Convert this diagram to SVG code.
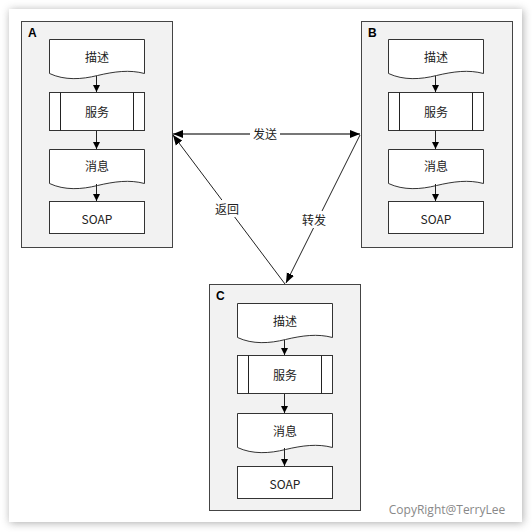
<svg xmlns="http://www.w3.org/2000/svg" width="532" height="532" viewBox="0 0 532 532">
<defs>
<filter id="sh" x="-5%" y="-5%" width="110%" height="110%"><feGaussianBlur stdDeviation="4"/></filter>
<marker id="ah" viewBox="0 0 10 10" refX="10" refY="5" markerWidth="7" markerHeight="7" orient="auto-start-reverse" markerUnits="userSpaceOnUse"><path d="M0,0 L10,5 L0,10 Z" fill="#000"/></marker>
<marker id="ah2" viewBox="0 0 10 10" refX="10" refY="5" markerWidth="10" markerHeight="10" orient="auto-start-reverse" markerUnits="userSpaceOnUse"><path d="M0,1 L10,5 L0,9 Z" fill="#000"/></marker>
<path id="doc" d="M0,0 H95 V34 C80,30 65,32 48,36 C32,40 15,41 0,34 Z"/>
</defs>
<style>
.box{fill:#f2f2f2;stroke:#444;stroke-width:1}
.sh{fill:#fff;stroke:#333;stroke-width:1}
.t{font-family:"Noto Sans CJK SC","Open Sans",sans-serif;font-size:12px;fill:#222;text-anchor:middle;dominant-baseline:central}
.lbl{font-family:"Liberation Sans",Arial,sans-serif;font-size:12px;font-weight:bold;fill:#000}
.ln{stroke:#222;stroke-width:1;fill:none}
.bl{fill:#fff;stroke:none}
</style>
<rect x="0" y="0" width="532" height="532" fill="#fff"/>
<rect x="10" y="10" width="513" height="513" fill="#888" filter="url(#sh)" opacity="0.7"/>
<rect x="9" y="9" width="513" height="513" fill="#fff"/>

<g id="A" transform="translate(21,21)">
<rect class="box" x="0.5" y="0.5" width="151" height="226"/>
<text class="lbl" x="7" y="16">A</text>
<use href="#doc" class="sh" x="28.5" y="18.5"/>
<text class="t" x="76" y="35">描述</text>
<rect class="sh" x="28.5" y="71.5" width="95" height="38"/>
<line class="ln" x1="39.5" y1="71.5" x2="39.5" y2="109.5"/>
<line class="ln" x1="112.5" y1="71.5" x2="112.5" y2="109.5"/>
<text class="t" x="76" y="90">服务</text>
<use href="#doc" class="sh" x="28.5" y="128.5"/>
<text class="t" x="76" y="144">消息</text>
<rect class="sh" x="28.5" y="180.5" width="95" height="32"/>
<text class="t" x="76" y="197">SOAP</text>
<line class="ln" x1="75.5" y1="55" x2="75.5" y2="71" marker-end="url(#ah)"/>
<line class="ln" x1="75.5" y1="110" x2="75.5" y2="128" marker-end="url(#ah)"/>
<line class="ln" x1="75.5" y1="163" x2="75.5" y2="180" marker-end="url(#ah)"/>
</g>

<g id="B" transform="translate(361,21)">
<rect class="box" x="0.5" y="0.5" width="151" height="226"/>
<text class="lbl" x="7" y="16">B</text>
<use href="#doc" class="sh" x="27.5" y="18.5"/>
<text class="t" x="75" y="35">描述</text>
<rect class="sh" x="27.5" y="71.5" width="95" height="38"/>
<line class="ln" x1="38.5" y1="71.5" x2="38.5" y2="109.5"/>
<line class="ln" x1="111.5" y1="71.5" x2="111.5" y2="109.5"/>
<text class="t" x="75" y="90">服务</text>
<use href="#doc" class="sh" x="27.5" y="128.5"/>
<text class="t" x="75" y="144">消息</text>
<rect class="sh" x="27.5" y="180.5" width="95" height="32"/>
<text class="t" x="75" y="197">SOAP</text>
<line class="ln" x1="74.5" y1="55" x2="74.5" y2="71" marker-end="url(#ah)"/>
<line class="ln" x1="74.5" y1="110" x2="74.5" y2="128" marker-end="url(#ah)"/>
<line class="ln" x1="74.5" y1="163" x2="74.5" y2="180" marker-end="url(#ah)"/>
</g>

<g id="C" transform="translate(209,284)">
<rect class="box" x="0.5" y="0.5" width="151" height="226"/>
<text class="lbl" x="7" y="16">C</text>
<use href="#doc" class="sh" x="28.5" y="19.5"/>
<text class="t" x="76" y="36">描述</text>
<rect class="sh" x="28.5" y="71.5" width="95" height="38"/>
<line class="ln" x1="39.5" y1="71.5" x2="39.5" y2="109.5"/>
<line class="ln" x1="112.5" y1="71.5" x2="112.5" y2="109.5"/>
<text class="t" x="76" y="90">服务</text>
<use href="#doc" class="sh" x="28.5" y="129.5"/>
<text class="t" x="76" y="146">消息</text>
<rect class="sh" x="28.5" y="182.5" width="95" height="32"/>
<text class="t" x="76" y="199">SOAP</text>
<line class="ln" x1="75.5" y1="56" x2="75.5" y2="71" marker-end="url(#ah)"/>
<line class="ln" x1="75.5" y1="110" x2="75.5" y2="129" marker-end="url(#ah)"/>
<line class="ln" x1="75.5" y1="164" x2="75.5" y2="182" marker-end="url(#ah)"/>
</g>

<g id="connectors">
<line x1="173" y1="134" x2="360" y2="134" stroke="#777" stroke-width="2" marker-start="url(#ah2)" marker-end="url(#ah2)"/>
<rect class="bl" x="250" y="126" width="30" height="16"/>
<text class="t" x="265" y="133">发送</text>
<line class="ln" x1="285" y1="284" x2="173" y2="135" marker-end="url(#ah2)"/>
<rect class="bl" x="212" y="200" width="30" height="17"/>
<text class="t" x="227" y="208">返回</text>
<line class="ln" x1="360" y1="135" x2="286" y2="283" marker-end="url(#ah2)"/>
<rect class="bl" x="299" y="211" width="30" height="17"/>
<text class="t" x="314" y="219">转发</text>
</g>

<text x="447" y="509" font-family="Open Sans,sans-serif" font-size="12" fill="#888" text-anchor="middle" dominant-baseline="central">CopyRight@TerryLee</text>
</svg>
